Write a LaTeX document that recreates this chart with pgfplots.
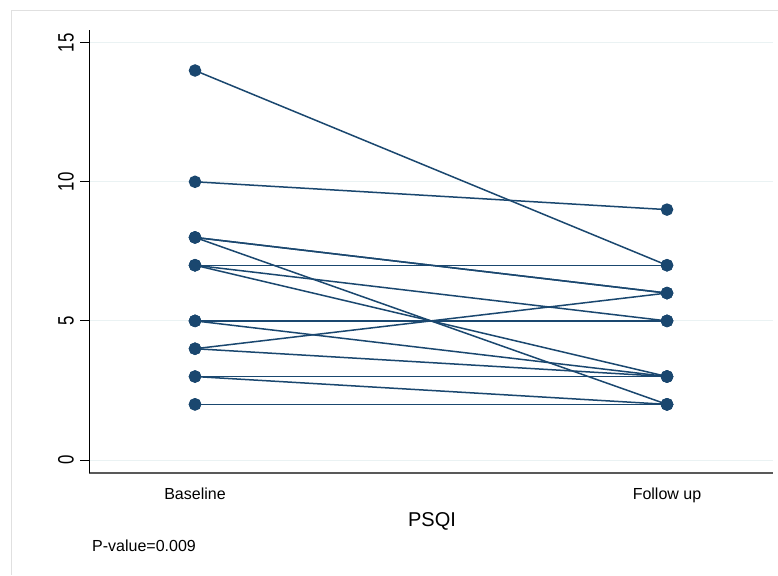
\documentclass[border=0pt]{standalone}
\usepackage{fontspec}
\setmainfont{Liberation Sans}
\usepackage{graphicx}
\usepackage{pgfplots}
\pgfplotsset{compat=1.18}
\definecolor{statanavy}{RGB}{26,71,111}
\definecolor{gridc}{RGB}{234,242,243}
\pgfplotsset{pp/.style={color=statanavy, solid, line width=1.5pt, mark=*, mark size=5.5pt, mark options={fill=statanavy, draw=statanavy, solid}}}
\begin{document}
\begin{tikzpicture}
\path[use as bounding box] (0,0) rectangle (778pt,575pt);
\fill[white] (0,0) rectangle (778pt,575pt);
\draw[color=black!12, line width=0.8pt] (11pt,0) -- (11pt,565pt) -- (778pt,565pt);
\begin{axis}[
  at={(89pt,102pt)}, anchor=south west,
  scale only axis, width=684pt, height=443pt,
  xmin=-0.2246, xmax=1.2246, ymin=-0.467, ymax=15.456,
  axis x line*=bottom, axis y line*=left,
  x axis line style={draw=black!65, line width=1.5pt},
  y axis line style={draw=black, line width=0.8pt},
  xtick={0,1}, xticklabels={Baseline,Follow up},
  xtick style={draw=none},
  xticklabel style={font=\fontsize{16}{16}\selectfont, inner sep=0pt, anchor=north, yshift=-6pt},
  ytick={0,5,10,15},
  ytick style={draw=black, line width=0.8pt},
  tick align=outside, major tick length=9pt,
  yticklabel={\scalebox{0.8}[1.06]{\pgfmathprintnumber[assume math mode=true]{\tick}}},
  yticklabel style={font=\fontsize{21}{21}\selectfont, xshift=-6pt, rotate=90, anchor=south, inner sep=0pt},
  ymajorgrids, grid style={draw=gridc, line width=1pt},
  clip=false,
]
\addplot[pp] coordinates {(0,14) (1,7)};
\addplot[pp] coordinates {(0,10) (1,9)};
\addplot[pp] coordinates {(0,8) (1,6)};
\addplot[pp] coordinates {(0,8) (1,6)};
\addplot[pp] coordinates {(0,8) (1,2)};
\addplot[pp] coordinates {(0,7) (1,7)};
\addplot[pp] coordinates {(0,7) (1,5)};
\addplot[pp] coordinates {(0,7) (1,3)};
\addplot[pp] coordinates {(0,5) (1,5)};
\addplot[pp] coordinates {(0,5) (1,5)};
\addplot[pp] coordinates {(0,5) (1,3)};
\addplot[pp] coordinates {(0,4) (1,6)};
\addplot[pp] coordinates {(0,4) (1,3)};
\addplot[pp] coordinates {(0,3) (1,3)};
\addplot[pp] coordinates {(0,3) (1,2)};
\addplot[pp] coordinates {(0,2) (1,2)};
\addplot[pp] coordinates {(0,2) (1,2)};
\end{axis}
\node[font=\fontsize{20}{20}\selectfont] at (432pt,54pt) {PSQI};
\node[font=\fontsize{16}{16}\selectfont, anchor=west, inner sep=0pt] at (92pt,29pt) {P-value=0.009};
\end{tikzpicture}
\end{document}
